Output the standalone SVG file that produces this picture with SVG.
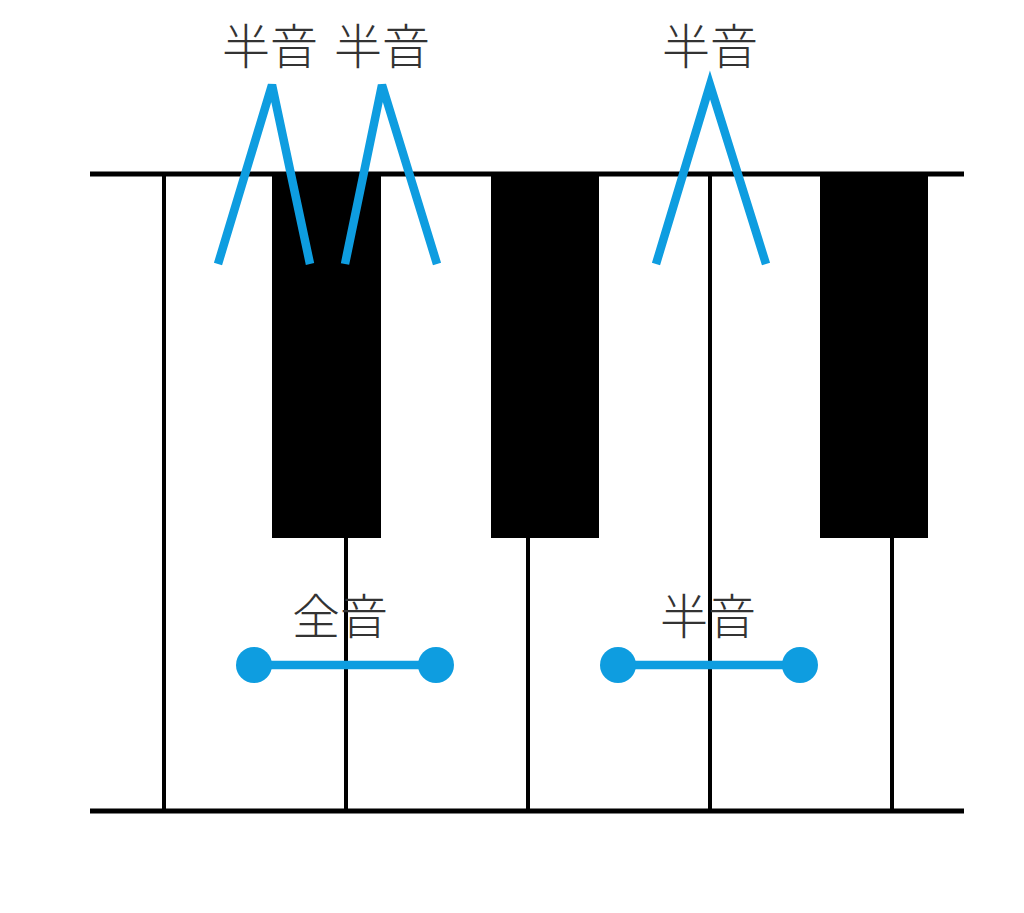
<svg xmlns="http://www.w3.org/2000/svg" width="1024" height="913" viewBox="0 0 1024 913">
<style>
.frame{stroke:#000;stroke-width:5;fill:none}
.sep{stroke:#000;stroke-width:4;fill:none}
.black{fill:#000}
.blue{stroke:#0E9DE0;stroke-width:8.5;fill:none;stroke-linecap:butt;stroke-linejoin:miter}
.dot{fill:#0E9DE0}
.lbl{font-family:"Noto Sans CJK JP","Noto Sans CJK SC",sans-serif;font-size:48px;font-weight:300;fill:#333;text-anchor:middle}
</style>
<rect x="0" y="0" width="1024" height="913" fill="#fff"/>
<g id="keyboard">
<line class="frame" x1="90" y1="174" x2="964" y2="174"/>
<line class="frame" x1="90" y1="811" x2="964" y2="811"/>
<line class="sep" x1="164" y1="174" x2="164" y2="811"/>
<line class="sep" x1="710" y1="174" x2="710" y2="811"/>
<line class="sep" x1="346" y1="537" x2="346" y2="811"/>
<line class="sep" x1="528" y1="537" x2="528" y2="811"/>
<line class="sep" x1="892" y1="537" x2="892" y2="811"/>
</g>
<g id="black-key-1"><rect class="black" x="272" y="174" width="109" height="364"/></g>
<g id="black-key-2"><rect class="black" x="491" y="174" width="108" height="364"/></g>
<g id="black-key-3"><rect class="black" x="820" y="174" width="108" height="364"/></g>
<g id="connectors">
<polyline class="blue" points="218,264 272,85 310,264"/>
<polyline class="blue" points="345,264 382,85 437,264"/>
<polyline class="blue" points="656,264 710,85 766,264"/>
<line class="blue" x1="254" y1="665" x2="436" y2="665"/>
<circle class="dot" cx="254" cy="665" r="18"/>
<circle class="dot" cx="436" cy="665" r="18"/>
<line class="blue" x1="618" y1="665" x2="800" y2="665"/>
<circle class="dot" cx="618" cy="665" r="18"/>
<circle class="dot" cx="800" cy="665" r="18"/>
</g>
<g id="label-half-1"><text class="lbl" x="270" y="64">半音</text></g>
<g id="label-half-2"><text class="lbl" x="382" y="64">半音</text></g>
<g id="label-half-3"><text class="lbl" x="710" y="64">半音</text></g>
<g id="label-whole"><text class="lbl" x="340" y="634">全音</text></g>
<g id="label-half-4"><text class="lbl" x="708" y="634">半音</text></g>
</svg>
